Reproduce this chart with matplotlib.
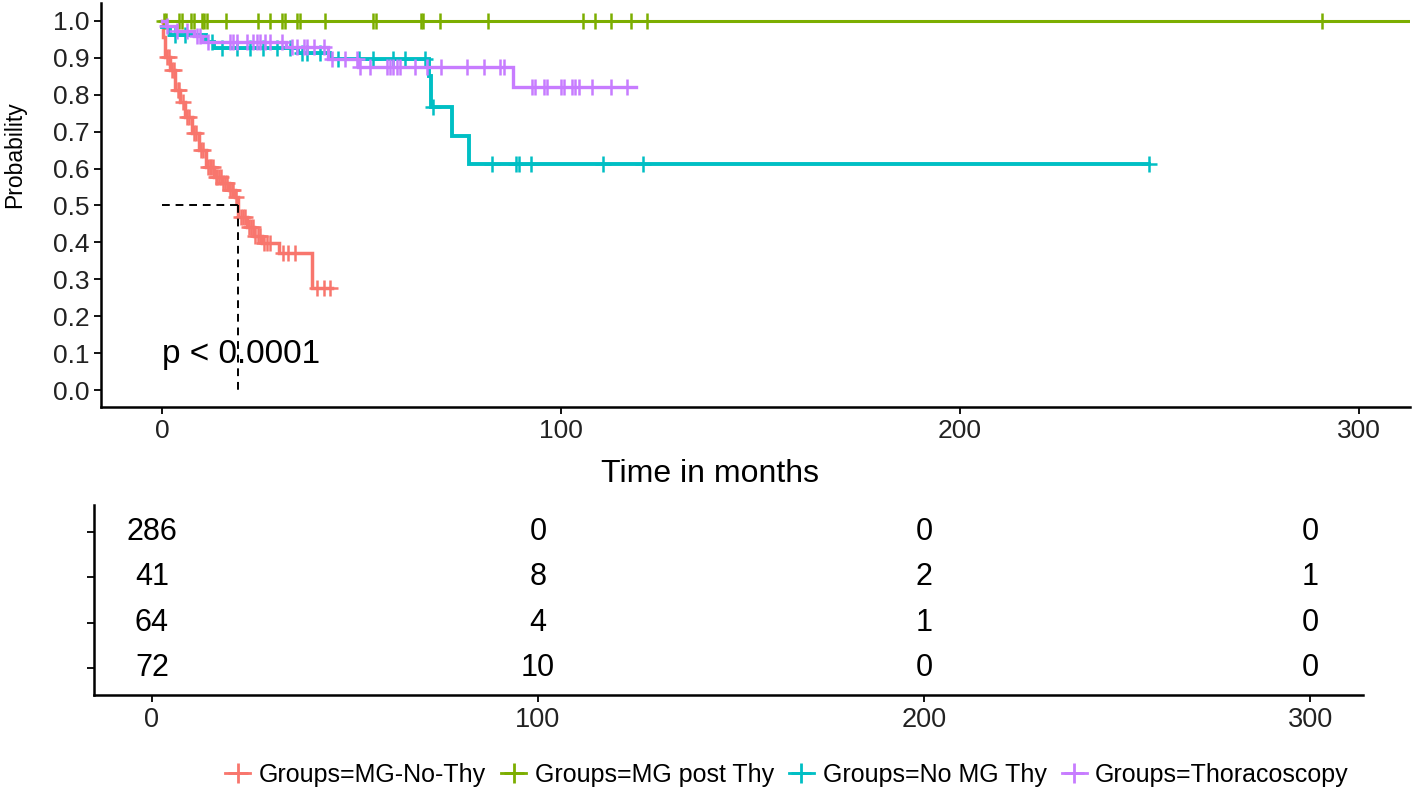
import matplotlib
matplotlib.use("Agg")
import matplotlib.pyplot as plt
from matplotlib.lines import Line2D
import numpy as np

plt.rcParams['font.family'] = ['Liberation Sans', 'DejaVu Sans']

# group names and colours (ggplot default hues)
groups = ["MG-No-Thy", "MG post Thy", "No MG Thy", "Thoracoscopy"]
colors = ["#F8766D", "#7CAE00", "#00BFC4", "#C77CFF"]

# survival steps (time in months, probability)
red_times = [0, 0.3, 0.75, 2, 3.3, 4.6, 5.8, 7.5, 9.2, 10.9, 13, 15, 16.8, 18.3, 19.0, 21.3, 23, 25, 29.3, 37.6]
red_surv = [1.0, 0.957, 0.903, 0.867, 0.813, 0.78, 0.74, 0.696, 0.65, 0.605, 0.578, 0.56, 0.542, 0.524, 0.47, 0.443, 0.416, 0.398, 0.371, 0.276]
red_end = 42.6
red_cens = [1.2, 1.8, 2.6, 3.0, 3.9, 4.3, 5.2, 6.3, 6.8, 7.9, 8.6, 9.8, 10.3, 11.4, 11.9, 12.3, 12.7,
            13.4, 13.8, 14.3, 14.7, 15.4, 15.8, 16.3, 17.1, 17.5, 17.9, 18.6, 19.9, 20.4, 20.9, 21.7,
            22.2, 22.7, 23.4, 24.0, 24.6, 25.6, 26.2, 27.0, 30.4, 31.6, 33.4, 38.8, 40.5, 42.2]

green_times = [0]
green_surv = [1.0]
green_end = 314
green_cens = [0.4, 1.0, 4.3, 4.9, 7.3, 7.9, 10.0, 10.6, 11.3, 16.0, 24.1, 27.0, 30.1, 30.9, 33.9,
              34.7, 40.9, 53.0, 53.6, 64.9, 65.5, 69.6, 81.7, 105.4, 108.6, 112.6, 117.5, 121.6, 290.8]

cyan_times = [0, 2, 11, 13, 34, 42, 67, 67.5, 72.7, 76.9]
cyan_surv = [0.984, 0.961, 0.943, 0.928, 0.912, 0.898, 0.85, 0.766, 0.688, 0.612]
cyan_end = 247.5
cyan_cens = [3.3, 5.8, 12.5, 15, 18.7, 22, 25.4, 28.8, 32.1, 35.1, 36.3, 39.6, 44.2, 49.3, 52.9,
             57.9, 61, 65.8, 68.0, 82.7, 88.6, 89.4, 92.6, 110.6, 120.5, 247.5]

purple_times = [0, 1, 3.5, 8, 10, 31, 41.5, 49, 88]
purple_surv = [1.0, 0.986, 0.972, 0.958, 0.944, 0.93, 0.897, 0.875, 0.82]
purple_end = 118.7
purple_cens = [1.2, 3.7, 6.2, 8.7, 9.5, 11.6, 17.1, 17.9, 18.9, 21.3, 22.9, 23.8, 24.6, 25.8, 27.1,
               30, 32.5, 33.8, 35.5, 36.3, 38, 40.5, 42.6, 45.9, 48.9, 49.7, 52.2, 56.4, 57.2, 58,
               58.9, 59.7, 63.5, 66.4, 69.8, 76.5, 80.6, 84.8, 85.7, 92.8, 93.6, 95.7, 96.5, 99.9,
               100.7, 102.8, 103.6, 104.5, 107.8, 112.6, 116.6]

# number at risk table
risk_times = [0, 100, 200, 300]
risk_counts = [
    [286, 0, 0, 0],
    [41, 8, 2, 1],
    [64, 4, 1, 0],
    [72, 10, 0, 0],
]

median_time = 19.0
p_text = "p < 0.0001"

curves = [
    (red_times, red_surv, red_end, red_cens),
    (green_times, green_surv, green_end, green_cens),
    (cyan_times, cyan_surv, cyan_end, cyan_cens),
    (purple_times, purple_surv, purple_end, purple_cens),
]
widths = [2.5, 2.2, 2.8, 2.4]

W, H = 1417, 795
fig = plt.figure(figsize=(W / 100, H / 100), dpi=100)

ax = fig.add_axes([101 / W, 1 - 407 / H, (1410 - 101) / W, (407 - 2.5) / H])
for (t, s, end, cens), c, lw in zip(curves, colors, widths):
    t = np.array(t, dtype=float)
    s = np.array(s, dtype=float)
    ax.step(np.append(t, end), np.append(s, s[-1]), where='post', color=c, lw=lw, solid_joinstyle='miter')
    cens = np.array(cens, dtype=float)
    idx = np.searchsorted(t, cens, side='right') - 1
    ax.plot(cens, s[idx], ls='none', marker='+', ms=12, mew=1.8, color=c)

# median lines
ax.plot([0, median_time], [0.5, 0.5], ls=(0, (4, 3)), color='black', lw=1.4)
ax.plot([median_time, median_time], [0.5, 0.0], ls=(0, (4, 3)), color='black', lw=1.4)
ax.text(0, 0.095, p_text, fontsize=24, ha='left', va='center')

ax.set_xlim(-15.3, 312.8)
ax.set_ylim(-0.046, 1.05)
ax.set_xticks([0, 100, 200, 300])
ax.set_yticks(np.arange(0, 1.01, 0.1))
ax.set_yticklabels([f"{v:.1f}" for v in np.arange(0, 1.01, 0.1)])
for sp in ['top', 'right']:
    ax.spines[sp].set_visible(False)
for sp in ['left', 'bottom']:
    ax.spines[sp].set_linewidth(1.8)
ax.tick_params(labelsize=19, length=5, width=1.3, colors='black', labelcolor='#222222')

fig.text(710 / W, 1 - 474 / H, "Time in months", fontsize=23, ha='center', va='center')
fig.text(15 / W, 1 - 155 / H, "Probability", fontsize=16.5, rotation=90, ha='center', va='center')

# risk table
ax2 = fig.add_axes([94 / W, 1 - 695 / H, (1363 - 94) / W, (695 - 505) / H])
rows = [4, 3, 2, 1]
for r, counts in zip(rows, risk_counts):
    for t, n in zip(risk_times, counts):
        ax2.text(t, r, str(n), fontsize=22, ha='center', va='center')
ax2.set_xlim(-15.0, 313.7)
ax2.set_ylim(0.4, 4.6)
ax2.set_xticks(risk_times)
ax2.set_yticks(rows)
ax2.set_yticklabels([])
for sp in ['top', 'right']:
    ax2.spines[sp].set_visible(False)
for sp in ['left', 'bottom']:
    ax2.spines[sp].set_linewidth(1.8)
ax2.tick_params(labelsize=19.5, length=5, width=1.3, colors='black', labelcolor='#222222')

handles = [Line2D([0], [0], color=c, lw=2, marker='+', ms=15, mew=2) for c in colors]
labels = ["Groups=" + g for g in groups]
fig.legend(handles, labels, ncol=4, frameon=False, loc='center',
           bbox_to_anchor=(787 / W, 1 - 775 / H), fontsize=18,
           handlelength=1.0, columnspacing=0.6, handletextpad=0.35)

fig.savefig("out.png", dpi=100)
